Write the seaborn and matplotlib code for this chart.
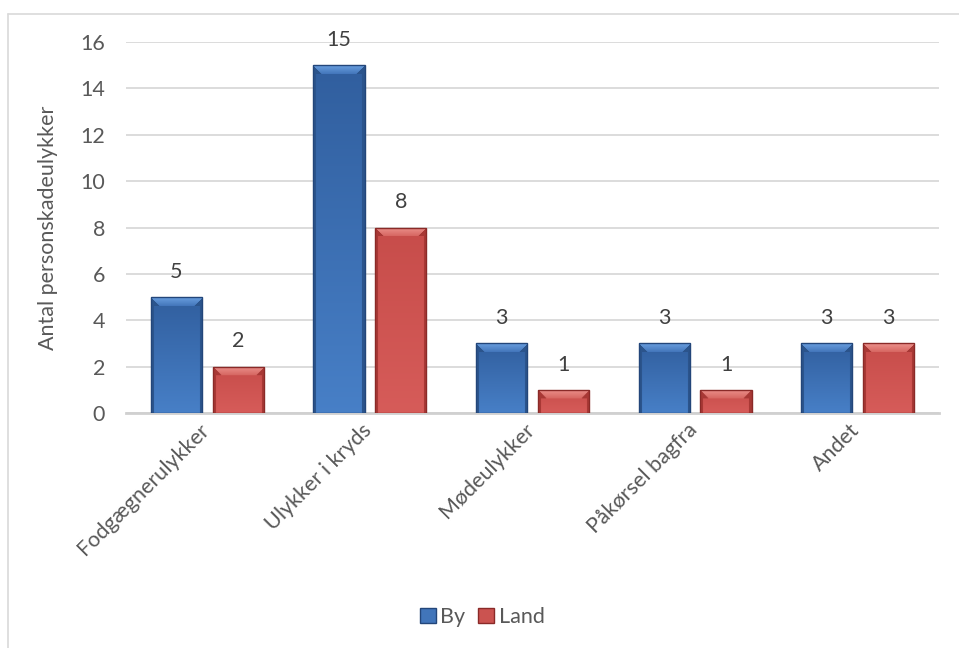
import numpy as np
import pandas as pd
import matplotlib
matplotlib.use('Agg')
import matplotlib.pyplot as plt
import matplotlib.transforms as mtransforms
from matplotlib.lines import Line2D
from matplotlib.patches import Patch
import seaborn as sns

categories = ['Fodgægnerulykker', 'Ulykker i kryds', 'Mødeulykker', 'Påkørsel bagfra', 'Andet']
by_values = [5, 15, 3, 3, 3]
land_values = [2, 8, 1, 1, 3]
series_names = ['By', 'Land']
ylabel = 'Antal personskadeulykker'

df = pd.DataFrame({
    'Kategori': categories * 2,
    'Antal': by_values + land_values,
    'Type': [series_names[0]] * len(categories) + [series_names[1]] * len(categories),
})

sns.set_style('white')
plt.rcParams['font.family'] = ['Lato', 'DejaVu Sans']
text_col = '#595959'
fs = 15.5

fig = plt.figure(figsize=(9.59, 6.48), dpi=100)
ax = fig.add_axes([126 / 959, 1 - 413 / 648, 813 / 959, 371 / 648])

colors = {'By': '#4175BA', 'Land': '#CB5350'}
sns.barplot(data=df, x='Kategori', y='Antal', hue='Type', palette=colors,
            width=0.76, gap=0.17, ax=ax, legend=False, zorder=3)

ax.set_ylim(0, 16)
ax.set_xlim(-0.5, len(categories) - 0.5)
ax.set_yticks(range(0, 17, 2))
ax.yaxis.grid(True, color='#D9D9D9', linewidth=1.3, zorder=0)
ax.set_axisbelow(True)
for s in ['top', 'right', 'left']:
    ax.spines[s].set_visible(False)
ax.spines['bottom'].set_color('#D0D0D0')
ax.spines['bottom'].set_linewidth(2)
ax.tick_params(axis='both', length=0, labelsize=fs, colors=text_col)
ax.tick_params(axis='y', pad=15)
ax.tick_params(axis='x', pad=5)
ax.set_xlabel('')
ax.set_ylabel(ylabel, fontsize=fs, color=text_col)
ax.yaxis.set_label_coords(-0.084, 0.5)
shift = mtransforms.ScaledTranslation(-6 / 72, 0, fig.dpi_scale_trans)
for lab in ax.get_xticklabels():
    lab.set_rotation(45)
    lab.set_ha('right')
    lab.set_va('top')
    lab.set_rotation_mode('anchor')
    lab.set_transform(lab.get_transform() + shift)

# shaded bevel look for every bar, taken from the bars seaborn drew
px_x = ax.bbox.width / (ax.get_xlim()[1] - ax.get_xlim()[0])
px_y = ax.bbox.height / (ax.get_ylim()[1] - ax.get_ylim()[0])
shades = {
    'By': dict(face_top=(0.19, 0.37, 0.62), face_bot=(0.28, 0.50, 0.78),
               bevel_hi=(0.42, 0.63, 0.88), bevel_lo=(0.26, 0.46, 0.73),
               side=(0.17, 0.33, 0.55), edge='#23467A'),
    'Land': dict(face_top=(0.78, 0.30, 0.29), face_bot=(0.84, 0.36, 0.35),
                 bevel_hi=(0.93, 0.58, 0.56), bevel_lo=(0.84, 0.40, 0.38),
                 side=(0.66, 0.22, 0.21), edge='#8A2A28'),
}
for cont, name in zip(ax.containers, series_names):
    sh = shades[name]
    for bar in cont:
        x0, w, h = bar.get_x(), bar.get_width(), bar.get_height()
        wp, hp = int(round(w * px_x)), int(round(h * px_y))
        jj, ii = np.meshgrid(np.arange(wp) + 0.5, np.arange(hp) + 0.5)
        ds = np.minimum(jj, wp - jj)
        bt, bs = 9.0, 3.5
        tv = ii / hp
        img = np.empty((hp, wp, 3))
        for k in range(3):
            img[..., k] = sh['face_top'][k] + (sh['face_bot'][k] - sh['face_top'][k]) * tv
        top = (ii < bt) & (ii <= ds)
        side = (ds < np.maximum(bs, np.minimum(ii, bt) * 0 + bs)) & ~top
        corner = (ii < bt) & (ds < ii) & ~top
        tb = np.clip(ii / bt, 0, 1)
        for k in range(3):
            img[..., k] = np.where(top, sh['bevel_hi'][k] + (sh['bevel_lo'][k] - sh['bevel_hi'][k]) * tb, img[..., k])
        img[side | corner] = sh['side']
        im = ax.imshow(img, extent=[x0, x0 + w, 0, h], aspect='auto',
                       origin='upper', zorder=3, interpolation='bilinear')
        im.set_clip_path(bar)
        bar.set_facecolor('none')
        bar.set_edgecolor(sh['edge'])
        bar.set_linewidth(1)
        bar.set_zorder(4)
    ax.bar_label(cont, padding=11, fontsize=fs, color='#404040')

ax.set_xlim(-0.5, len(categories) - 0.5)
ax.set_ylim(0, 16)

handles = [Patch(facecolor=colors[n], edgecolor=shades[n]['edge'], label=n) for n in series_names]
fig.legend(handles=handles, loc='center', bbox_to_anchor=(482 / 959, 1 - 617 / 648),
           ncol=2, frameon=False, fontsize=fs, labelcolor=text_col,
           handlelength=0.75, handleheight=0.75, handletextpad=0.2, columnspacing=0.6)

# chart border (left and top visible)
fig.add_artist(Line2D([8 / 959, 8 / 959], [0, 1 - 14 / 648], transform=fig.transFigure,
                      color='#D9D9D9', linewidth=1.2))
fig.add_artist(Line2D([8 / 959, 1], [1 - 14 / 648, 1 - 14 / 648], transform=fig.transFigure,
                      color='#D9D9D9', linewidth=1.2))

fig.savefig('out.png', dpi=100)
